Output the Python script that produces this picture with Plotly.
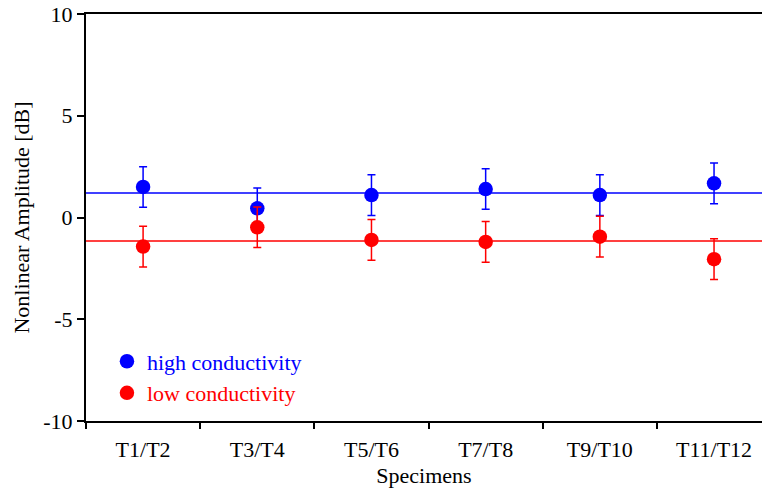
import plotly.graph_objects as go

categories = ["T1/T2", "T3/T4", "T5/T6", "T7/T8", "T9/T10", "T11/T12"]
high_values = [1.5, 0.45, 1.1, 1.4, 1.1, 1.68]
high_errors = [1.0, 1.0, 1.0, 1.0, 1.0, 1.0]
low_values = [-1.43, -0.48, -1.1, -1.2, -0.94, -2.05]
low_errors = [1.0, 1.0, 1.0, 1.0, 1.0, 1.0]
high_mean = 1.2
low_mean = -1.15
y_ticks = [-10, -5, 0, 5, 10]

FONT = "Liberation Serif, Times New Roman, serif"
BLUE = "#0000ff"
RED = "#ff0000"
FS = 22

fig = go.Figure()

fig.add_hline(y=high_mean, line=dict(color=BLUE, width=1.5), layer="below")
fig.add_hline(y=low_mean, line=dict(color=RED, width=1.5), layer="below")

fig.add_trace(go.Scatter(
    x=categories, y=high_values, mode="markers",
    name=f"<span style='color:{BLUE}'>high conductivity</span>",
    marker=dict(color=BLUE, size=14.5),
    error_y=dict(type="data", array=high_errors, color=BLUE, thickness=1.5, width=4),
))
fig.add_trace(go.Scatter(
    x=categories, y=low_values, mode="markers",
    name=f"<span style='color:{RED}'>low conductivity</span>",
    marker=dict(color=RED, size=14.5),
    error_y=dict(type="data", array=low_errors, color=RED, thickness=1.5, width=4),
))

fig.update_layout(
    width=762, height=493,
    margin=dict(l=86, r=0, t=14, b=72),
    plot_bgcolor="white", paper_bgcolor="white",
    font=dict(family=FONT, size=FS, color="black"),
    showlegend=True,
    legend=dict(x=0.031, y=0.107, xanchor="left", yanchor="middle",
                bgcolor="rgba(0,0,0,0)", font=dict(size=FS),
                itemsizing="trace", tracegroupgap=0),
    xaxis=dict(
        type="category", categoryorder="array", categoryarray=categories,
        range=[-0.5, 5.42], tickson="boundaries",
        showline=True, linecolor="black", linewidth=2, mirror=True,
        ticks="outside", ticklen=6, tickwidth=1.5, tickcolor="black",
        ticklabelstandoff=8,
        showgrid=False, zeroline=False,
        title=dict(text="Specimens", standoff=6, font=dict(size=FS)),
        tickfont=dict(size=FS),
    ),
    yaxis=dict(
        range=[-10, 10], tickvals=y_ticks, ticktext=[str(v) for v in y_ticks],
        showline=True, linecolor="black", linewidth=2,
        ticks="outside", ticklen=7, tickwidth=1.5, tickcolor="black",
        showgrid=False, zeroline=False,
        title=dict(text="Nonlinear Amplitude [dB]", standoff=8, font=dict(size=FS)),
        tickfont=dict(size=FS),
    ),
)

fig.write_html("out.html")
